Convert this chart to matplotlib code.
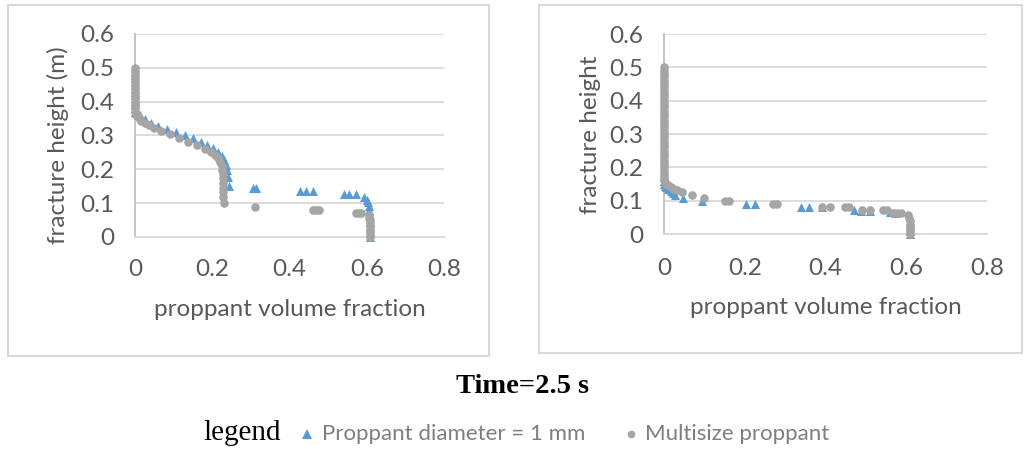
import matplotlib
matplotlib.use("Agg")
import matplotlib.pyplot as plt
from matplotlib.patches import Rectangle
from matplotlib.lines import Line2D

"""
__Data (read off the picture)__
"""
# left panel: fracture height (m) vs proppant volume fraction
left_mono_x = [0, 0, 0, 0, 0, 0, 0, 0, 0, 0, 0, 0, 0, 0,
               0.003, 0.008, 0.013, 0.026, 0.041, 0.06, 0.083, 0.106, 0.129, 0.15,
               0.171, 0.186, 0.202, 0.215, 0.225, 0.23, 0.236, 0.238, 0.241, 0.243,
               0.306, 0.312,
               0.427, 0.443, 0.462,
               0.54, 0.553, 0.572,
               0.594, 0.6, 0.604, 0.606, 0.607, 0.608, 0.608, 0.608, 0.608, 0.608]
left_mono_y = [0.50, 0.49, 0.48, 0.47, 0.46, 0.45, 0.44, 0.43, 0.42, 0.41, 0.40, 0.39, 0.38, 0.37,
               0.365, 0.362, 0.361, 0.349, 0.337, 0.328, 0.319, 0.31, 0.302, 0.293,
               0.281, 0.272, 0.263, 0.251, 0.24, 0.228, 0.213, 0.198, 0.178, 0.151,
               0.145, 0.145,
               0.135, 0.135, 0.135,
               0.126, 0.126, 0.126,
               0.117, 0.11, 0.102, 0.092, 0.08, 0.065, 0.045, 0.03, 0.015, 0.0]

left_multi_x = [0, 0, 0, 0, 0, 0, 0, 0, 0, 0, 0, 0, 0,
                0.001, 0.004, 0.009, 0.016, 0.025, 0.036, 0.05, 0.068, 0.09, 0.113,
                0.137, 0.16, 0.18, 0.196, 0.207, 0.215, 0.22, 0.224, 0.226, 0.227,
                0.228, 0.228, 0.228, 0.228, 0.229, 0.231,
                0.31,
                0.462, 0.468, 0.475,
                0.572, 0.58, 0.586,
                0.606, 0.607, 0.608, 0.608, 0.608, 0.608, 0.608, 0.608]
left_multi_y = [0.50, 0.49, 0.48, 0.47, 0.46, 0.45, 0.44, 0.43, 0.42, 0.41, 0.40, 0.39, 0.38,
                0.37, 0.36, 0.352, 0.344, 0.337, 0.33, 0.322, 0.313, 0.303, 0.292,
                0.281, 0.271, 0.261, 0.252, 0.243, 0.233, 0.222, 0.21, 0.198, 0.186,
                0.173, 0.16, 0.146, 0.132, 0.118, 0.1,
                0.09,
                0.08, 0.08, 0.08,
                0.072, 0.072, 0.072,
                0.065, 0.055, 0.045, 0.035, 0.025, 0.015, 0.005, 0.0]

# right panel
right_mono_x = [0, 0, 0, 0.002, 0.005, 0.01, 0.016, 0.022, 0.027, 0.047, 0.095,
                0.203, 0.225, 0.34, 0.36, 0.39,
                0.47, 0.489, 0.51, 0.56, 0.573,
                0.608, 0.609, 0.61, 0.61, 0.61, 0.61]
right_mono_y = [0.17, 0.16, 0.15, 0.145, 0.14, 0.134, 0.128, 0.123, 0.117, 0.108, 0.098,
                0.09, 0.09, 0.081, 0.081, 0.081,
                0.071, 0.07, 0.07, 0.065, 0.063,
                0.05, 0.04, 0.03, 0.02, 0.01, 0.0]

right_multi_x = [0, 0, 0, 0, 0, 0, 0, 0, 0, 0, 0, 0, 0, 0, 0, 0, 0,
                 0, 0, 0, 0, 0, 0, 0, 0, 0, 0, 0, 0, 0, 0, 0, 0, 0,
                 0.001, 0.003, 0.006, 0.01, 0.016, 0.024, 0.033, 0.044, 0.069, 0.1,
                 0.15, 0.16, 0.27, 0.28, 0.392, 0.41, 0.448, 0.458,
                 0.49, 0.51, 0.543, 0.553, 0.567, 0.577, 0.587,
                 0.603, 0.607, 0.609, 0.61, 0.61, 0.61, 0.61]
right_multi_y = [0.50, 0.49, 0.48, 0.47, 0.46, 0.45, 0.44, 0.43, 0.42, 0.41, 0.40, 0.39,
                 0.38, 0.37, 0.36, 0.35, 0.34, 0.33, 0.32, 0.31, 0.30, 0.29, 0.28, 0.27,
                 0.26, 0.25, 0.24, 0.23, 0.22, 0.21, 0.20, 0.19, 0.18, 0.17,
                 0.163, 0.157, 0.151, 0.146, 0.141, 0.136, 0.131, 0.125, 0.117, 0.107,
                 0.098, 0.098, 0.09, 0.09, 0.081, 0.082, 0.082, 0.081,
                 0.072, 0.072, 0.071, 0.071, 0.064, 0.064, 0.064,
                 0.057, 0.048, 0.038, 0.028, 0.018, 0.008, 0.0]

ylabels = ["fracture height (m)", "fracture height"]
xlabel = "proppant volume fraction"
series_labels = ["Proppant diameter = 1 mm", "Multisize proppant"]
xticks = [0, 0.2, 0.4, 0.6, 0.8]
yticks = [0, 0.1, 0.2, 0.3, 0.4, 0.5, 0.6]

blue = "#5B9BD5"
grey = "#A5A5A5"
text_grey = "#595959"
grid_grey = "#D9D9D9"

plt.rcParams["font.family"] = ["Lato", "DejaVu Sans"]

fig = plt.figure(figsize=(10.30, 4.49), dpi=100)

# outer chart-area frames (Excel style)
for (x0, y0, w, h) in [(0.0078, 0.2071, 0.4670, 0.7817), (0.5233, 0.2138, 0.4690, 0.7750)]:
    fig.patches.append(
        Rectangle((x0, y0), w, h, transform=fig.transFigure, fill=False,
                  edgecolor=grid_grey, linewidth=1.5)
    )

panels = [
    dict(rect=[0.1311, 0.4722, 0.3000, 0.4521],
         data=(left_mono_x, left_mono_y, left_multi_x, left_multi_y),
         ylab=ylabels[0], ylab_xy=(-0.249, 0.453), xlab_y=-0.355, xpad=15.5),
    dict(rect=[0.6447, 0.4788, 0.3136, 0.4454],
         data=(right_mono_x, right_mono_y, right_multi_x, right_multi_y),
         ylab=ylabels[1], ylab_xy=(-0.229, 0.495), xlab_y=-0.365, xpad=17.5),
]

fs = 17.5

for p in panels:
    ax = fig.add_axes(p["rect"])
    mx, my, gx, gy = p["data"]
    ax.scatter(mx, my, marker="^", s=42, color=blue, linewidths=0, zorder=3, clip_on=False)
    ax.scatter(gx, gy, marker="o", s=38, color=grey, linewidths=0, zorder=4, clip_on=False)

    ax.set_xlim(0, 0.8)
    ax.set_ylim(0, 0.6)
    ax.set_xticks(xticks)
    ax.set_xticklabels(["0", "0.2", "0.4", "0.6", "0.8"])
    ax.set_yticks(yticks)
    ax.set_yticklabels(["0", "0.1", "0.2", "0.3", "0.4", "0.5", "0.6"])
    ax.tick_params(length=0, labelsize=fs, labelcolor=text_grey)
    ax.tick_params(axis="x", pad=p["xpad"])
    ax.tick_params(axis="y", pad=15)
    ax.grid(axis="y", color=grid_grey, linewidth=1.3)
    ax.set_axisbelow(True)
    for side in ["top", "right"]:
        ax.spines[side].set_visible(False)
    ax.spines["left"].set_color("#BFBFBF")
    ax.spines["left"].set_linewidth(1.3)
    ax.spines["bottom"].set_color(grid_grey)
    ax.spines["bottom"].set_linewidth(1.3)

    ax.set_xlabel(xlabel, fontsize=fs, color=text_grey, va="center")
    ax.xaxis.set_label_coords(0.5, p["xlab_y"])
    ax.set_ylabel(p["ylab"], fontsize=fs, color=text_grey, va="center")
    ax.yaxis.set_label_coords(*p["ylab_xy"])

fig.text(0.5078, 0.1247, "Time=2.5 s", ha="center", va="baseline",
         fontsize=20.5, fontweight="bold", family="Liberation Serif")
fig.text(0.197, 0.02, "legend", ha="left", va="baseline",
         fontsize=21, family="Liberation Serif")

# legend keys and labels, placed like the pasted Excel legend strip
key_y = 0.034
fig.add_artist(Line2D([0.298], [key_y], transform=fig.transFigure, marker="^",
                      linestyle="none", color=blue, markersize=7, markeredgewidth=0))
fig.text(0.3126, 0.02, series_labels[0], ha="left", va="baseline",
         fontsize=16, color="#7F7F7F")
fig.add_artist(Line2D([0.6126], [key_y], transform=fig.transFigure, marker="o",
                      linestyle="none", color=grey, markersize=5.5, markeredgewidth=0))
fig.text(0.626, 0.02, series_labels[1], ha="left", va="baseline",
         fontsize=16, color="#7F7F7F")

plt.savefig("out.png", dpi=100)
